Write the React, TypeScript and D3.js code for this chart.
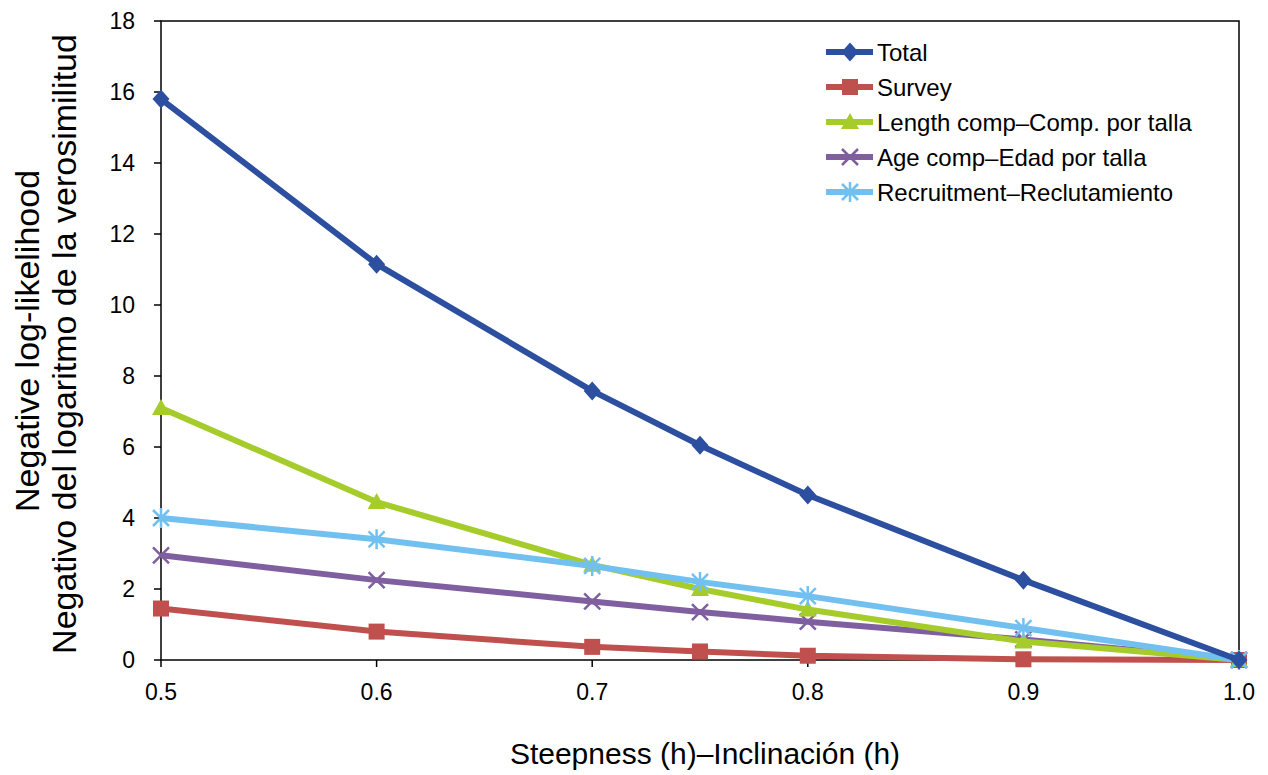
import React from "react";
import * as d3 from "d3";

const steepness = [0.5, 0.6, 0.7, 0.75, 0.8, 0.9, 1.0];
const totalVals = [15.8, 11.15, 7.58, 6.05, 4.65, 2.25, 0];
const surveyVals = [1.45, 0.8, 0.37, 0.24, 0.12, 0.02, 0];
const lengthVals = [7.1, 4.45, 2.68, 2.0, 1.42, 0.52, 0];
const ageVals = [2.95, 2.25, 1.65, 1.35, 1.08, 0.58, 0];
const recruitVals = [4.0, 3.4, 2.65, 2.2, 1.8, 0.9, 0];
const seriesNames = [
  "Total",
  "Survey",
  "Length comp\u2013Comp. por talla",
  "Age comp\u2013Edad por talla",
  "Recruitment\u2013Reclutamiento",
];
const xTicks = [0.5, 0.6, 0.7, 0.8, 0.9, 1.0];
const yTicks = [0, 2, 4, 6, 8, 10, 12, 14, 16, 18];
const xTitle = "Steepness (h)\u2013Inclinación (h)";
const yTitle1 = "Negative log-likelihood";
const yTitle2 = "Negativo del logaritmo de la verosimilitud";

const colors = ["#2D4F9F", "#C0504D", "#A6CC2C", "#7F5FA0", "#72C0F0"];
const markers = ["diamond", "square", "triangle", "x", "asterisk"];

const W = 1268, H = 775;
const left = 161, right = 1239, top = 21, bottom = 660;
const font = "Arial, 'Liberation Sans', sans-serif";

function Marker({ type, x, y, color }: { type: string; x: number; y: number; color: string }) {
  const s = 8.5;
  if (type === "diamond")
    return <path d={`M${x},${y - s - 1}L${x + s},${y}L${x},${y + s + 1}L${x - s},${y}Z`} fill={color} />;
  if (type === "square")
    return <rect x={x - 8} y={y - 8} width={16} height={16} fill={color} />;
  if (type === "triangle")
    return <path d={`M${x},${y - 9}L${x + 9},${y + 7}L${x - 9},${y + 7}Z`} fill={color} />;
  if (type === "x")
    return (
      <path d={`M${x - 8},${y - 8}L${x + 8},${y + 8}M${x - 8},${y + 8}L${x + 8},${y - 8}`} stroke={color} strokeWidth={2.5} />
    );
  return (
    <path
      d={`M${x - 8},${y - 8}L${x + 8},${y + 8}M${x - 8},${y + 8}L${x + 8},${y - 8}M${x},${y - 10}L${x},${y + 10}`}
      stroke={color}
      strokeWidth={2.5}
    />
  );
}

export default function App() {
  const x = d3.scaleLinear().domain([0.5, 1.0]).range([left, right]);
  const y = d3.scaleLinear().domain([0, 18]).range([bottom, top]);
  const allSeries = [totalVals, surveyVals, lengthVals, ageVals, recruitVals];
  const line = d3
    .line<number>()
    .x((_, i) => x(steepness[i]))
    .y((d) => y(d));
  const drawOrder = [1, 3, 2, 4, 0];
  const legendX = 826, legendY0 = 52, legendDY = 35;

  return (
    <svg width={W} height={H} style={{ position: "absolute", left: 0, top: 0, background: "#fff" }} fontFamily={font}>
      <rect x={0} y={0} width={W} height={H} fill="#fff" />
      {/* frame */}
      <rect x={left} y={top} width={right - left} height={bottom - top} fill="none" stroke="#000" strokeWidth={1.5} />
      {/* y ticks */}
      {yTicks.map((t) => (
        <g key={"y" + t}>
          <line x1={left - 7} x2={left} y1={y(t)} y2={y(t)} stroke="#000" strokeWidth={1.5} />
          <text x={left - 26} y={y(t)} dy="0.36em" textAnchor="end" fontSize={23} fill="#000">
            {t}
          </text>
        </g>
      ))}
      {/* x ticks */}
      {xTicks.map((t) => (
        <g key={"x" + t}>
          <line x1={x(t)} x2={x(t)} y1={bottom} y2={bottom + 7} stroke="#000" strokeWidth={1.5} />
          <text x={x(t)} y={bottom + 40} textAnchor="middle" fontSize={23} fill="#000">
            {d3.format(".1f")(t)}
          </text>
        </g>
      ))}
      {/* series */}
      {drawOrder.map((si) => (
        <g key={"s" + si}>
          <path d={line(allSeries[si]) || ""} fill="none" stroke={colors[si]} strokeWidth={6} strokeLinejoin="round" />
          {allSeries[si].map((v, i) => (
            <Marker key={i} type={markers[si]} x={x(steepness[i])} y={y(v)} color={colors[si]} />
          ))}
        </g>
      ))}
      {/* legend */}
      {seriesNames.map((name, i) => {
        const ly = legendY0 + i * legendDY;
        return (
          <g key={"l" + i}>
            <line x1={legendX} x2={legendX + 47} y1={ly} y2={ly} stroke={colors[i]} strokeWidth={6} />
            <Marker type={markers[i]} x={legendX + 24} y={ly} color={colors[i]} />
            <text x={legendX + 51} y={ly} dy="0.36em" fontSize={24} fill="#000">
              {name}
            </text>
          </g>
        );
      })}
      {/* axis titles */}
      <text x={705} y={764} textAnchor="middle" fontSize={30} fill="#000">
        {xTitle}
      </text>
      <text transform={`translate(39,341) rotate(-90)`} textAnchor="middle" fontSize={34} fill="#000">
        {yTitle1}
      </text>
      <text transform={`translate(76,344) rotate(-90)`} textAnchor="middle" fontSize={34} fill="#000">
        {yTitle2}
      </text>
    </svg>
  );
}
